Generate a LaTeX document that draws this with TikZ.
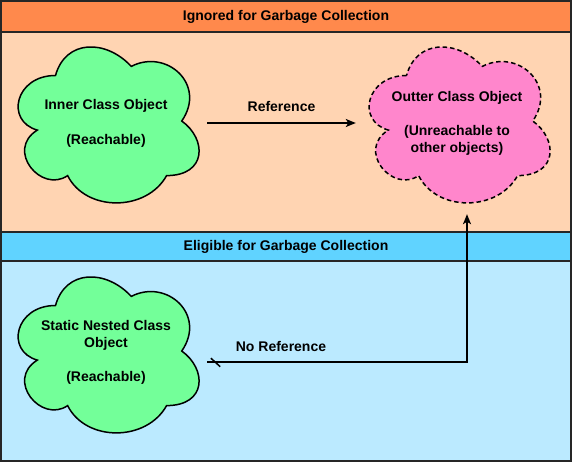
\documentclass[tikz,border=0pt]{standalone}
\usepackage{fontspec}
\setmainfont{Liberation Sans}
\usetikzlibrary{arrows.meta}
\definecolor{hdrorange}{RGB}{255,137,76}
\definecolor{bodyorange}{RGB}{255,212,178}
\definecolor{hdrblue}{RGB}{96,211,255}
\definecolor{bodyblue}{RGB}{187,234,255}
\definecolor{cloudgreen}{RGB}{115,255,153}
\definecolor{cloudpink}{RGB}{255,134,204}
\newcommand{\cloudat}[5]{%
  \path[#1, shift={(#2,#3)}, xscale=#4, yscale=#5]
    (0.25,0.25) .. controls (0.05,0.25) and (0,0.5) .. (0.16,0.55)
    .. controls (0,0.66) and (0.18,0.9) .. (0.31,0.8)
    .. controls (0.4,1) and (0.7,1) .. (0.8,0.8)
    .. controls (1,0.8) and (1,0.6) .. (0.875,0.5)
    .. controls (1,0.3) and (0.8,0.1) .. (0.625,0.2)
    .. controls (0.5,0.05) and (0.3,0.05) .. (0.25,0.25) -- cycle;}
\begin{document}
\begin{tikzpicture}[x=1pt,y=-1pt,
  band/.style={draw=black!85, line width=1.3pt},
  lbl/.style={font=\fontsize{14}{17}\selectfont\bfseries, inner sep=0pt, align=center},
  cloudbox/.style={lbl, minimum width=202pt, minimum height=182pt},
  solidcloud/.style={draw=black, line width=1.5pt, fill=cloudgreen},
  dashcloud/.style={draw=black, line width=1.5pt, fill=cloudpink, dash pattern=on 4.5pt off 3pt},
  conn/.style={draw=black, line width=1.5pt},
  tip/.style={-{Stealth[length=10pt,width=8pt,inset=2.5pt]}}
]
\useasboundingbox (0,0) rectangle (572,462);
% bands
\path[band, fill=bodyorange] (1,32) rectangle (571,232);
\path[band, fill=bodyblue] (1,261) rectangle (571,461);
\path[band, fill=hdrorange] (1,1) rectangle (571,32);
\path[band, fill=hdrblue] (1,232) rectangle (571,261);
\node[lbl] (hdrA) at (286,16.5) {Ignored for Garbage Collection};
\node[lbl] (hdrB) at (286,246.5) {Eligible for Garbage Collection};
% clouds
\cloudat{solidcloud}{5}{30}{202}{182}
\cloudat{dashcloud}{356}{30}{202}{182}
\cloudat{solidcloud}{5}{260}{202}{182}
\node[cloudbox] (inner) at (106,123) {Inner Class Object\\[18pt](Reachable)};
\node[cloudbox] (outer) at (457,123) {Outter Class Object\\[17pt](Unreachable to\\other objects)};
\node[cloudbox] (static) at (106,352) {Static Nested Class\\Object\\[17pt](Reachable)};
% connectors
\draw[conn, tip] (inner.east) -- (outer.west);
\node[lbl] (reflbl) at (281.5,106) {Reference};
\coordinate (nrstart) at ([yshift=-10pt]static.east);
\coordinate (nrend) at ([xshift=10pt]outer.south);
\draw[conn, tip] (nrstart) -| (nrend);
\draw[conn] ([xshift=3.7pt,yshift=3.8pt]nrstart) -- ([xshift=13pt,yshift=-4.7pt]nrstart);
\node[lbl] (norefl) at (281,346) {No Reference};
\end{tikzpicture}
\end{document}
